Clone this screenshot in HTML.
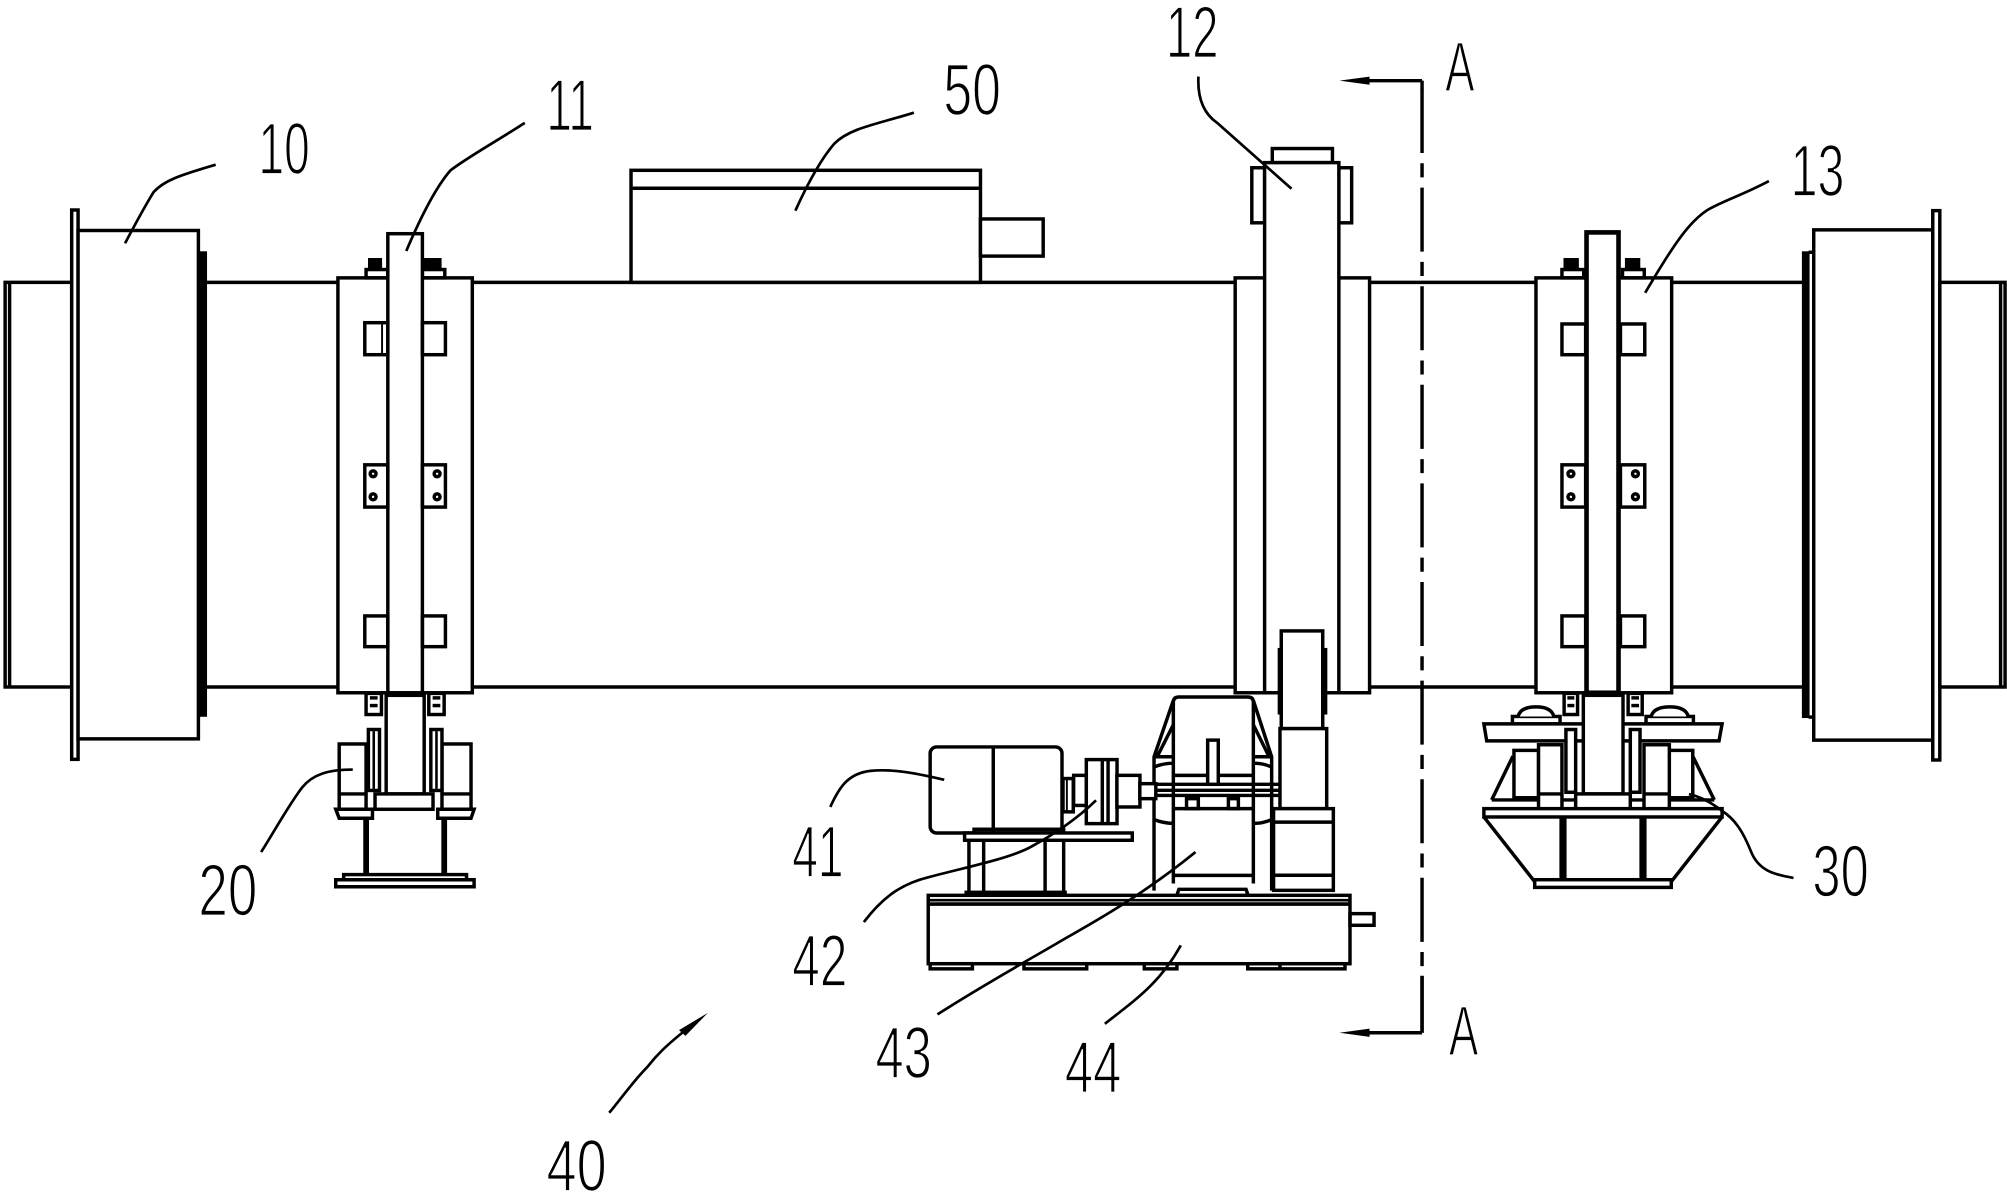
<!DOCTYPE html>
<html><head><meta charset="utf-8">
<style>
html,body{margin:0;padding:0;background:#fff;}
svg{display:block;}
text{font-family:"Liberation Sans",sans-serif;font-size:57px;fill:#000;stroke:#fff;stroke-width:1.3px;}
</style></head>
<body>
<svg width="2007" height="1196" viewBox="0 0 1568 934" preserveAspectRatio="none" xmlns="http://www.w3.org/2000/svg">
<rect width="1568" height="934" fill="#fff"/>
<g fill="none" stroke="#000" stroke-width="2.7" stroke-linejoin="miter">
<!-- shell -->
<line x1="161" y1="220.5" x2="1409" y2="220.5"/>
<line x1="161" y1="536.5" x2="1409" y2="536.5"/>
<!-- left end -->
<rect x="4" y="220.5" width="52" height="316"/>
<line x1="7.5" y1="221" x2="7.5" y2="536"/>
<rect x="56" y="164" width="5" height="429" fill="#fff"/>
<rect x="61" y="180" width="94" height="397" fill="#fff"/>
<rect x="157" y="197" width="4" height="362" fill="#000" stroke-width="1.5"/>
<!-- right end -->
<rect x="1408.5" y="197" width="4.5" height="363" fill="#000" stroke-width="1.5"/>
<rect x="1417" y="179.5" width="93" height="398.5" fill="#fff"/>
<line x1="1413" y1="197" x2="1417" y2="197"/>
<line x1="1413" y1="560" x2="1417" y2="560"/>
<rect x="1510" y="164.5" width="5.5" height="429" fill="#fff"/>
<rect x="1515.5" y="220.5" width="51" height="316"/>
<line x1="1563" y1="221" x2="1563" y2="536"/>

<!-- 50 box -->
<rect x="493" y="133" width="273" height="87.5" fill="#fff"/>
<line x1="493" y1="147" x2="766" y2="147"/>
<rect x="766" y="171" width="49" height="29" fill="#fff"/>

<!-- bracket 11 -->
<rect x="264" y="217" width="105" height="324" fill="#fff"/>
<rect x="286" y="210.5" width="17" height="6.5"/>
<rect x="288" y="202" width="10" height="8.5" fill="#000" stroke-width="1"/>
<rect x="330" y="210.5" width="17.5" height="6.5"/>
<rect x="331.5" y="202" width="13" height="8.5" fill="#000" stroke-width="1"/>
<rect x="303" y="182.5" width="27" height="358.5" fill="#fff"/>
<rect x="285" y="252" width="18" height="25"/>
<line x1="298.5" y1="252" x2="298.5" y2="277" stroke-width="1.5"/>
<rect x="330" y="252" width="18" height="25"/>
<rect x="285" y="363" width="18" height="33"/>
<rect x="330" y="363" width="18" height="33"/>
<rect x="285" y="481" width="18" height="24"/>
<rect x="330" y="481" width="18" height="24"/>
<circle cx="291.5" cy="370" r="2.3"/><circle cx="291.5" cy="388" r="2.3"/>
<circle cx="341.5" cy="370" r="2.3"/><circle cx="341.5" cy="388" r="2.3"/>

<!-- bracket 13 -->
<rect x="1200" y="217" width="106" height="324" fill="#fff"/>
<rect x="1220.3" y="210.5" width="17" height="6.5"/>
<rect x="1222" y="202" width="11" height="8.5" fill="#000" stroke-width="1"/>
<rect x="1267.6" y="210.5" width="17" height="6.5"/>
<rect x="1270" y="202" width="11" height="8.5" fill="#000" stroke-width="1"/>
<rect x="1239.5" y="181.5" width="25" height="359.5" fill="#fff" stroke-width="3.6"/>
<rect x="1220.3" y="253" width="18.5" height="24"/>
<rect x="1266" y="253" width="19" height="24"/>
<rect x="1220.3" y="363" width="18.5" height="33"/>
<rect x="1266" y="363" width="19" height="33"/>
<rect x="1220.3" y="481" width="18.5" height="24"/>
<rect x="1266" y="481" width="19" height="24"/>
<circle cx="1227.3" cy="370" r="2.3"/><circle cx="1227.3" cy="388" r="2.3"/>
<circle cx="1277.7" cy="370" r="2.3"/><circle cx="1277.7" cy="388" r="2.3"/>

<!-- bracket 12 -->
<rect x="965" y="217" width="105" height="324" fill="#fff"/>
<rect x="978" y="131" width="10" height="43" fill="#fff"/>
<rect x="1046" y="131" width="10" height="43" fill="#fff"/>
<rect x="994" y="116" width="47" height="11" fill="#fff"/>
<rect x="988" y="127" width="58" height="414" fill="#fff"/>

<!-- support 20 -->
<rect x="286" y="541.5" width="12" height="16.5" fill="#fff"/>
<line x1="289" y1="545" x2="295" y2="545"/><line x1="289" y1="551" x2="295" y2="551"/>
<rect x="335" y="541.5" width="12" height="16.5" fill="#fff"/>
<line x1="338" y1="545" x2="344" y2="545"/><line x1="338" y1="551" x2="344" y2="551"/>
<rect x="265" y="581" width="21" height="51" fill="#fff"/>
<line x1="265" y1="620" x2="286" y2="620"/>
<rect x="345.3" y="581" width="22.7" height="51" fill="#fff"/>
<line x1="345.3" y1="620" x2="368" y2="620"/>
<rect x="287.8" y="569.7" width="8.7" height="47.6" fill="#fff"/>
<rect x="336.6" y="569.7" width="8.7" height="47.6" fill="#fff"/>
<line x1="292" y1="571" x2="292" y2="616" stroke-width="2"/>
<line x1="341" y1="571" x2="341" y2="616" stroke-width="2"/>
<rect x="301.7" y="543" width="29.7" height="77" fill="#fff"/>
<rect x="293" y="620" width="45.3" height="12" fill="#fff"/>
<path d="M262.3,632 L291,632 L291,639 L265,639 Z" fill="#fff"/>
<path d="M342,632 L370.4,632 L368,639 L342,639 Z" fill="#fff"/>
<rect x="284.3" y="639.5" width="3.5" height="43.5" fill="#000" stroke-width="1"/>
<rect x="345.3" y="639.5" width="3.5" height="43.5" fill="#000" stroke-width="1"/>
<rect x="268.5" y="683" width="96" height="4"/>
<path d="M262.3,687 L370.4,687 L370.4,692.5 L262.3,692.5 Z" fill="#fff"/>

<!-- support 30 -->
<rect x="1222" y="541.5" width="10.5" height="16.5" fill="#fff"/>
<line x1="1224.5" y1="545" x2="1230" y2="545"/><line x1="1224.5" y1="551" x2="1230" y2="551"/>
<rect x="1272" y="541.5" width="11" height="16.5" fill="#fff"/>
<line x1="1274.5" y1="545" x2="1280.5" y2="545"/><line x1="1274.5" y1="551" x2="1280.5" y2="551"/>
<rect x="1181.6" y="559.5" width="37.2" height="5.8" fill="#fff"/>
<path d="M1186,559.5 Q1188,552 1200,552 Q1212,552 1214,559.5" fill="#fff"/>
<rect x="1286" y="559.5" width="37" height="5.8" fill="#fff"/>
<path d="M1290,559.5 Q1292,552 1304.5,552 Q1317,552 1319,559.5" fill="#fff"/>
<path d="M1159.3,565.3 L1345.4,565.3 L1343,578.6 L1161.5,578.6 Z" fill="#fff"/>
<line x1="1182" y1="590.5" x2="1165.4" y2="624.7"/>
<line x1="1322.5" y1="590.5" x2="1339.3" y2="624.7"/>
<line x1="1165.4" y1="624.7" x2="1339.3" y2="624.7"/>
<rect x="1182.8" y="586" width="19.2" height="37" fill="#fff"/>
<rect x="1304" y="586" width="18.5" height="37" fill="#fff"/>
<rect x="1202" y="581.6" width="18.3" height="50.4" fill="#fff"/>
<line x1="1202" y1="620" x2="1220.3" y2="620"/>
<rect x="1284.4" y="581.6" width="19.8" height="50.4" fill="#fff"/>
<line x1="1284.4" y1="620" x2="1304.2" y2="620"/>
<rect x="1223.4" y="569.7" width="7.6" height="49" fill="#fff"/>
<rect x="1273.7" y="569.7" width="7.6" height="49" fill="#fff"/>
<rect x="1237" y="543" width="31" height="77" fill="#fff"/>
<rect x="1231" y="620" width="42.7" height="15" fill="#fff"/>
<rect x="1159.3" y="631.5" width="186.1" height="6.5" fill="#fff"/>
<path d="M1159.3,638 L1199,688.5"/>
<path d="M1345.4,638 L1305.7,688.5"/>
<rect x="1218.8" y="638" width="4.6" height="49" fill="#000" stroke-width="1"/>
<rect x="1281.3" y="638" width="4.6" height="49" fill="#000" stroke-width="1"/>
<rect x="1199" y="687" width="106.7" height="6" fill="#fff"/>

<!-- roller 12 and pedestal -->
<rect x="998.7" y="506.5" width="3" height="51" fill="#000" stroke-width="1"/>
<rect x="1033" y="506.5" width="3.5" height="51" fill="#000" stroke-width="1"/>
<rect x="1001" y="492.7" width="32.4" height="76.3" fill="#fff"/>
<rect x="1000" y="569" width="36.5" height="62.5" fill="#fff"/>
<rect x="995" y="631.5" width="46.7" height="63.8" fill="#fff"/>
<line x1="995" y1="642" x2="1041.7" y2="642"/>
<line x1="995" y1="683.5" x2="1041.7" y2="683.5"/>

<!-- gearbox 43 -->
<path d="M916.7,690 L916.7,548.5 Q916.7,544.3 921,544.3 L975,544.3 Q979.2,544.3 979.2,548.5 L979.2,690" fill="#fff"/>
<path d="M916.7,547 L901.6,591 L901.6,695.5"/>
<path d="M979.2,547 L993.5,591 L993.5,695.5"/>
<path d="M916.7,566 L904,591"/>
<path d="M979.2,566 L991.5,591"/>
<line x1="901.6" y1="591" x2="916.7" y2="591"/>
<line x1="979.2" y1="591" x2="993.5" y2="591"/>
<path d="M901.6,599 Q909,596 916.7,596"/>
<path d="M979.2,596 Q987,596 993.5,599"/>
<path d="M901.6,640 Q909,643 916.7,643"/>
<path d="M979.2,643 Q987,643 993.5,640"/>
<line x1="916.7" y1="605.5" x2="979.2" y2="605.5"/>
<line x1="903" y1="612.5" x2="1000" y2="612.5"/>
<line x1="903" y1="617.2" x2="1000" y2="617.2"/>
<line x1="903" y1="621.2" x2="1000" y2="621.2"/>
<rect x="943.5" y="578" width="8.3" height="34.5" fill="#fff"/>
<rect x="927" y="623.7" width="9.2" height="7.8"/>
<rect x="959.7" y="623.7" width="7.8" height="7.8"/>
<line x1="916.7" y1="631.5" x2="979.2" y2="631.5"/>
<line x1="916.7" y1="683.6" x2="979.2" y2="683.6"/>
<path d="M919.5,699 L921,694.5 L973.5,694.5 L975,699"/>

<!-- motor 41 & coupling 42 -->
<rect x="726.7" y="583.3" width="103" height="67.2" rx="5" fill="#fff"/>
<line x1="776" y1="583.3" x2="776" y2="650.5"/>
<rect x="830.5" y="608" width="8" height="26"/>
<line x1="833.5" y1="609" x2="833.5" y2="633" stroke-width="1.5"/>
<rect x="838.8" y="605.5" width="10" height="23.5" fill="#fff"/>
<rect x="848.7" y="593.2" width="24" height="50" fill="#fff"/>
<line x1="861.2" y1="593.2" x2="861.2" y2="643.2"/>
<line x1="865.7" y1="593.2" x2="865.7" y2="643.2"/>
<rect x="872.6" y="605.5" width="18" height="24.7" fill="#fff"/>
<rect x="890.5" y="612" width="12.5" height="11.7" fill="#fff"/>
<rect x="761" y="647.6" width="70" height="2.9"/>
<rect x="753.6" y="650.5" width="131" height="5.7" fill="#fff"/>
<line x1="757" y1="656.2" x2="757" y2="696"/>
<line x1="768.5" y1="656.2" x2="768.5" y2="696"/>
<line x1="816.5" y1="656.2" x2="816.5" y2="696"/>
<line x1="831" y1="656.2" x2="831" y2="696"/>
<rect x="754" y="696" width="79" height="3.2" fill="#000" stroke-width="1"/>

<!-- base 44 -->
<rect x="725.2" y="699.2" width="329.5" height="53.4" fill="#fff"/>
<line x1="725.2" y1="703" x2="1054.7" y2="703" stroke-width="2"/>
<line x1="725.2" y1="706" x2="1054.7" y2="706" stroke-width="2.8"/>
<rect x="726.7" y="752.6" width="33" height="4"/>
<rect x="800" y="752.6" width="49" height="4"/>
<rect x="894" y="752.6" width="25.5" height="4"/>
<rect x="974.8" y="752.6" width="76" height="4"/>
<line x1="1000" y1="752.6" x2="1000" y2="756.6"/>
<rect x="1054.7" y="713.5" width="18.8" height="9.1"/>

<!-- section line A-A -->
<line x1="1111" y1="63" x2="1111" y2="70"/>
<line x1="1111" y1="69.5" x2="1111" y2="806.5" stroke-dasharray="50 8 11 8"/>
<line x1="1111" y1="762" x2="1111" y2="806.5"/>
<line x1="1060" y1="63" x2="1111" y2="63"/>
<line x1="1060" y1="806.5" x2="1111" y2="806.5"/>
</g>
<g fill="#000" stroke="none">
<polygon points="1046.5,63 1070,59.8 1070,66.2"/>
<polygon points="1046.5,806.5 1070,803.3 1070,809.7"/>
<polygon points="553,791 530.5,804.5 535.5,809"/>
</g>

<!-- leaders -->
<g fill="none" stroke="#000" stroke-width="2.1">
<path d="M168.5,128.6 C140,137 128,141 120,150 Q112,163 97.7,190"/>
<path d="M410,96 C385,112 365,123 352,133 Q337,150 317.4,196"/>
<path d="M714,88 C685,97 664,100 652,112 Q638,128 621.4,164.5"/>
<path d="M936.3,59.8 Q935,85 951,96 L1009,147.4"/>
<path d="M1382,141.4 C1362,152 1346,157 1334,164 C1320,173 1308,190 1285.3,228.7"/>
<path d="M204,665.4 C215,648 226,628 236,615 C244,605 256,601 275.6,601"/>
<path d="M1401.2,685.6 C1386,683 1374,680 1368,665 C1362,650 1356,640 1345,633 C1336,626 1328,622 1319.5,620.2"/>
<path d="M648.7,630.2 C656,614 663,604 680,602 C700,600 720,605 737.7,608.9"/>
<path d="M674.9,720.1 C690,700 705,690 725.5,685 C760,676 790,670 806,661 C830,648 845,636 856.3,625"/>
<path d="M732.4,792.2 C770,768 805,749 832,733 C862,716 895,697 934,665.4"/>
<path d="M863.2,799.5 C888,780 906,768 922.5,738.3"/>
<path d="M476,869 C486,857 495,844 505.7,833.3 C513,824 520,817 533,806.5"/>
</g>

<!-- labels -->
<text x="202" y="136" textLength="40" lengthAdjust="spacingAndGlyphs">10</text>
<text x="427" y="102" textLength="37" lengthAdjust="spacingAndGlyphs">11</text>
<text x="737" y="90" textLength="45" lengthAdjust="spacingAndGlyphs">50</text>
<text x="911" y="45" textLength="41" lengthAdjust="spacingAndGlyphs">12</text>
<text x="1399" y="153" textLength="42" lengthAdjust="spacingAndGlyphs">13</text>
<text x="1129" y="71" textLength="23" lengthAdjust="spacingAndGlyphs" style="font-size:55px">A</text>
<text x="1132" y="824" textLength="23" lengthAdjust="spacingAndGlyphs" style="font-size:55px">A</text>
<text x="155" y="715" textLength="46" lengthAdjust="spacingAndGlyphs">20</text>
<text x="1416" y="700" textLength="44" lengthAdjust="spacingAndGlyphs">30</text>
<text x="427" y="930" textLength="47" lengthAdjust="spacingAndGlyphs">40</text>
<text x="619" y="685" textLength="40" lengthAdjust="spacingAndGlyphs">41</text>
<text x="619" y="770" textLength="43" lengthAdjust="spacingAndGlyphs">42</text>
<text x="684" y="842" textLength="44" lengthAdjust="spacingAndGlyphs">43</text>
<text x="832" y="853" textLength="44" lengthAdjust="spacingAndGlyphs">44</text>
</svg>
</body></html>
